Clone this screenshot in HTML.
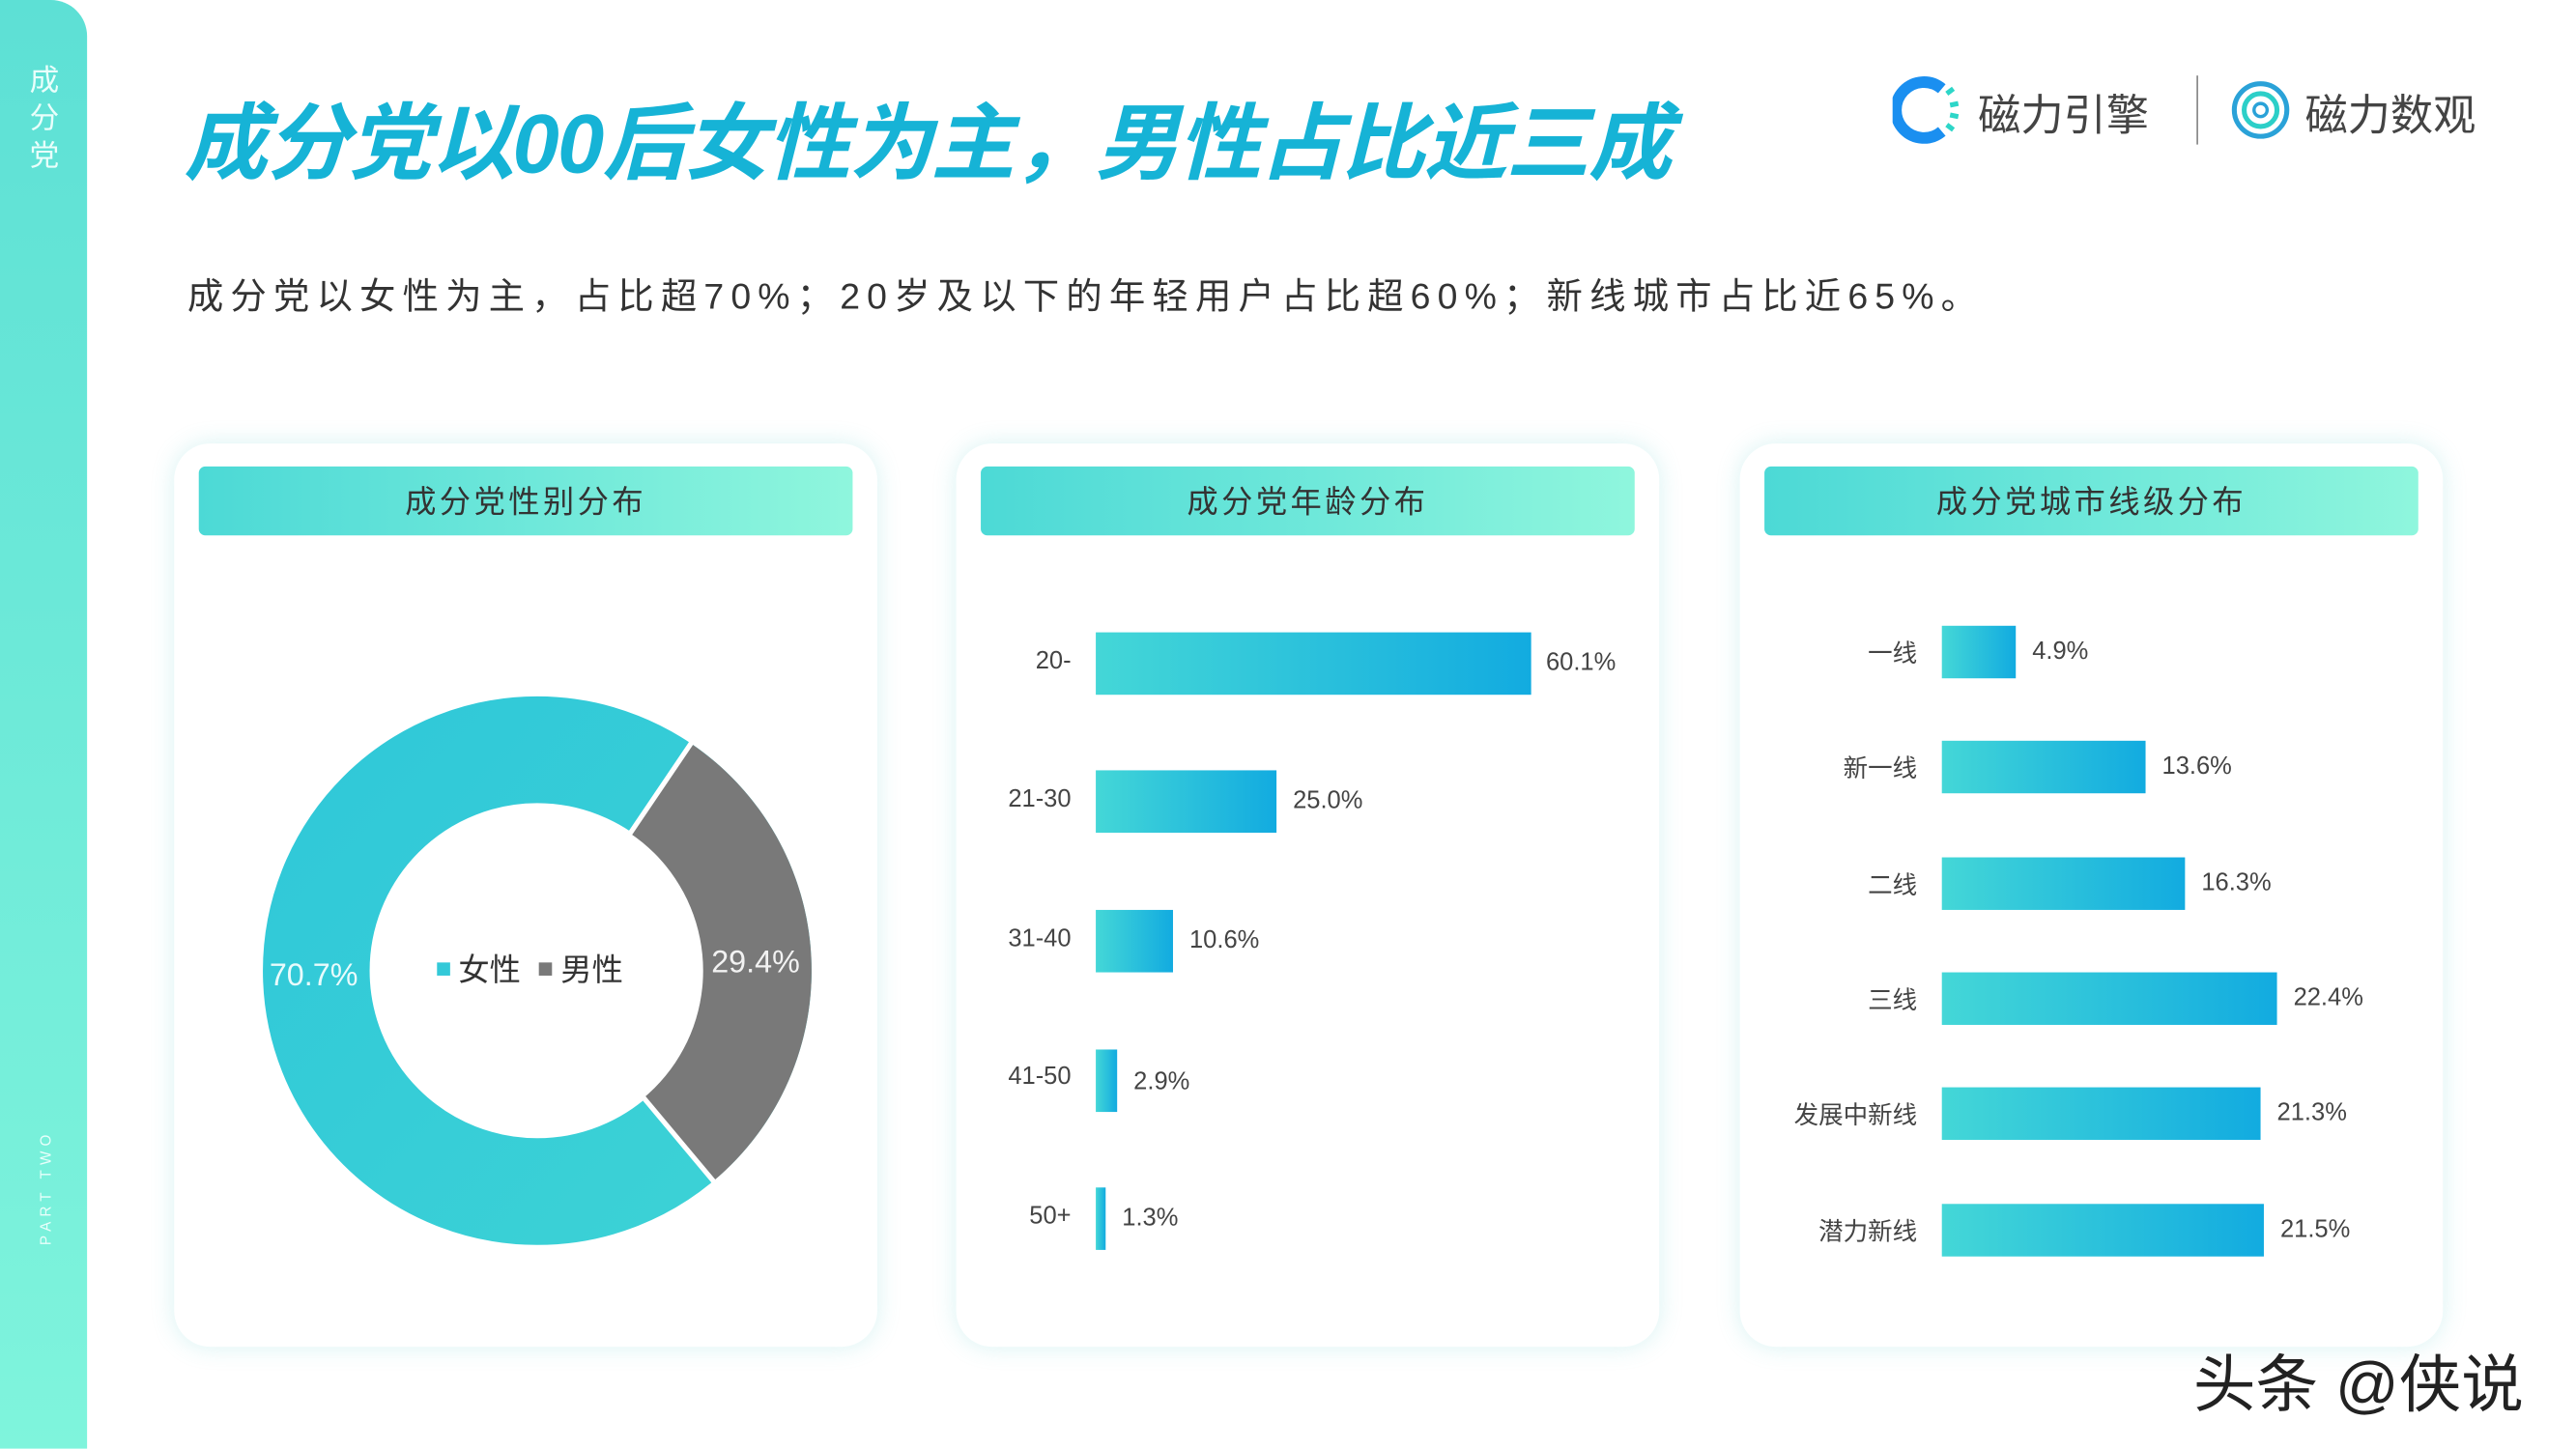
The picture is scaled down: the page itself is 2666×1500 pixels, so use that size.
<!DOCTYPE html>
<html><head><meta charset="utf-8"><style>
html,body{margin:0;padding:0;background:#fff;width:2666px;height:1500px;overflow:hidden}
#s{position:absolute;left:0;top:0;width:1568px;height:882px;transform:scale(1.70026);transform-origin:0 0;font-family:"Liberation Sans","Noto Sans CJK SC",sans-serif;background:#fff}
.abs{position:absolute}
.card{position:absolute;top:270px;width:428px;height:550px;background:#fff;border-radius:22px;box-shadow:0 0 14px rgba(80,200,200,0.22)}
.hd{position:absolute;left:15px;top:14px;width:398px;height:42px;border-radius:4px;background:linear-gradient(90deg,#4cd9d6,#8ff6dd);color:#333;font-size:19px;text-align:center;line-height:45px;letter-spacing:2px}
.bar{position:absolute;background:linear-gradient(90deg,#44d7d7,#12abe0)}
.lab{position:absolute;font-size:15px;color:#444;text-align:right}
.val{position:absolute;font-size:15px;color:#444}
</style></head><body><div id="s">
<div class="abs" style="left:0;top:0;width:53px;height:882px;background:linear-gradient(180deg,#5de0d5,#7ff4dc);border-radius:0 22px 0 0"></div>
<div class="abs" style="left:17px;top:38px;width:20px;color:#e9fffb;font-size:18px;line-height:23px;text-align:center">成<br>分<br>党</div>
<div class="abs" style="left:-22px;top:718px;width:100px;color:#e9fffb;font-size:9px;letter-spacing:3px;transform:rotate(-90deg);text-align:center">PART TWO</div>
<div class="abs" style="left:112px;top:46px;font-size:51px;font-weight:bold;font-style:italic;color:#16b3d6;letter-spacing:-1px;white-space:nowrap">成分党以00后女性为主，男性占比近三成</div>
<div class="abs" style="left:114px;top:163px;font-size:22px;color:#333;letter-spacing:4.2px;white-space:nowrap">成分党以女性为主，占比超70%；20岁及以下的年轻用户占比超60%；新线城市占比近65%。</div>
<svg class="abs" style="left:1152px;top:44px" width="42" height="46" viewBox="0 0 42 46"><path d="M30 36 A17 17 0 1 1 30 10" fill="none" stroke="#1a8ff0" stroke-width="7"/><g stroke="#2dd6c8" stroke-width="3"><line x1="33" y1="13" x2="37" y2="10"/><line x1="35" y1="20" x2="40" y2="19"/><line x1="35" y1="26" x2="40" y2="27"/><line x1="33" y1="32" x2="37" y2="35"/></g></svg>
<div class="abs" style="left:1204px;top:50px;font-size:26px;color:#444">磁力引擎</div>
<div class="abs" style="left:1337px;top:46px;width:1px;height:42px;background:#888"></div>
<svg class="abs" style="left:1357px;top:48px" width="38" height="38" viewBox="0 0 38 38"><circle cx="19" cy="19" r="16" fill="none" stroke="#2aa2d8" stroke-width="3"/><circle cx="19" cy="19" r="10" fill="none" stroke="#2ccfc8" stroke-width="3"/><circle cx="19" cy="19" r="4" fill="none" stroke="#2aa2d8" stroke-width="2"/></svg>
<div class="abs" style="left:1403px;top:50px;font-size:26px;color:#444">磁力数观</div>

<div class="card" style="left:106px"><div class="hd">成分党性别分布</div></div>
<div class="card" style="left:582px"><div class="hd">成分党年龄分布</div></div>
<div class="card" style="left:1059px"><div class="hd">成分党城市线级分布</div></div>

<svg class="abs" style="left:0;top:0" width="1568" height="882">
<defs><linearGradient id="g" x1="0" y1="0" x2="1" y2="1"><stop offset="0" stop-color="#30c8d8"/><stop offset="1" stop-color="#3cd2d6"/></linearGradient></defs>
<circle cx="327" cy="591" r="134.5" fill="none" stroke="url(#g)" stroke-width="65"/>
<path d="M327 591 L420.4 452.6 A167 167 0 0 1 434.3 719.0 Z" fill="#797979"/>
<line x1="327" y1="591" x2="421" y2="452" stroke="#fff" stroke-width="3"/>
<line x1="327" y1="591" x2="435" y2="720" stroke="#fff" stroke-width="3"/>
<circle cx="327" cy="591" r="101" fill="#fff"/>
</svg>
<div class="abs" style="left:164px;top:584px;font-size:19px;color:#e8fbfc">70.7%</div>
<div class="abs" style="left:433px;top:576px;font-size:19px;color:#f2f2f2">29.4%</div>
<div class="abs" style="left:266px;top:576px;font-size:19px;color:#333"><span style="display:inline-block;width:8px;height:8px;background:#33c9d8;margin-right:5px;vertical-align:3px"></span>女性 <span style="display:inline-block;width:8px;height:8px;background:#797979;margin:0 5px 0 6px;vertical-align:3px"></span>男性</div>

<div class="lab" style="left:590px;width:62px;top:394px">20-</div><div class="bar" style="left:667px;top:385px;width:265px;height:38px"></div><div class="val" style="left:941px;top:395px">60.1%</div>
<div class="lab" style="left:590px;width:62px;top:478px">21-30</div><div class="bar" style="left:667px;top:469px;width:110px;height:38px"></div><div class="val" style="left:787px;top:479px">25.0%</div>
<div class="lab" style="left:590px;width:62px;top:563px">31-40</div><div class="bar" style="left:667px;top:554px;width:47px;height:38px"></div><div class="val" style="left:724px;top:564px">10.6%</div>
<div class="lab" style="left:590px;width:62px;top:647px">41-50</div><div class="bar" style="left:667px;top:639px;width:13px;height:38px"></div><div class="val" style="left:690px;top:650px">2.9%</div>
<div class="lab" style="left:590px;width:62px;top:732px">50+</div><div class="bar" style="left:667px;top:723px;width:6px;height:38px"></div><div class="val" style="left:683px;top:733px">1.3%</div>

<div class="lab" style="left:1060px;width:107px;top:387px">一线</div><div class="bar" style="left:1182px;top:381px;width:45px;height:32px"></div><div class="val" style="left:1237px;top:388px">4.9%</div>
<div class="lab" style="left:1060px;width:107px;top:457px">新一线</div><div class="bar" style="left:1182px;top:451px;width:124px;height:32px"></div><div class="val" style="left:1316px;top:458px">13.6%</div>
<div class="lab" style="left:1060px;width:107px;top:528px">二线</div><div class="bar" style="left:1182px;top:522px;width:148px;height:32px"></div><div class="val" style="left:1340px;top:529px">16.3%</div>
<div class="lab" style="left:1060px;width:107px;top:598px">三线</div><div class="bar" style="left:1182px;top:592px;width:204px;height:32px"></div><div class="val" style="left:1396px;top:599px">22.4%</div>
<div class="lab" style="left:1060px;width:107px;top:668px">发展中新线</div><div class="bar" style="left:1182px;top:662px;width:194px;height:32px"></div><div class="val" style="left:1386px;top:669px">21.3%</div>
<div class="lab" style="left:1060px;width:107px;top:739px">潜力新线</div><div class="bar" style="left:1182px;top:733px;width:196px;height:32px"></div><div class="val" style="left:1388px;top:740px">21.5%</div>

<div class="abs" style="left:1335px;top:812px;font-size:38px;color:#222;text-shadow:0 0 3px #fff">头条 @侠说</div>
</div></body></html>
